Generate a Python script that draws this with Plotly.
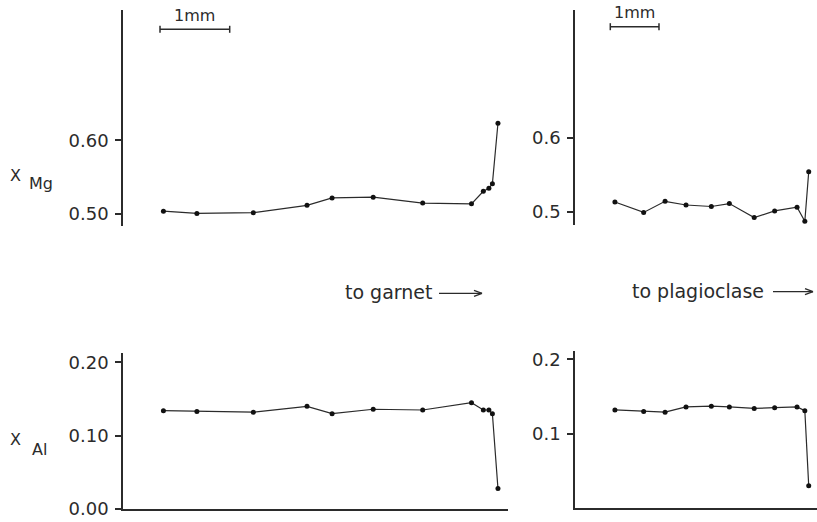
import plotly.graph_objects as go

W, H = 817, 522
FONT = "DejaVu Sans"
INK = "#2b2b2b"

# Traverse across the grain towards garnet (distance in mm)
garnet_dist = [0.58, 1.06, 1.87, 2.64, 3.00, 3.59, 4.30, 5.00, 5.17, 5.25, 5.30, 5.38]
garnet_xmg = [0.504, 0.501, 0.502, 0.512, 0.522, 0.523, 0.515, 0.514, 0.531, 0.535, 0.541, 0.623]
garnet_xal = [0.134, 0.133, 0.132, 0.140, 0.130, 0.136, 0.135, 0.145, 0.135, 0.135, 0.130, 0.028]

# Traverse across the grain towards plagioclase (distance in mm)
plag_dist = [0.82, 1.41, 1.85, 2.28, 2.80, 3.17, 3.68, 4.10, 4.56, 4.72, 4.80]
plag_xmg = [0.513, 0.499, 0.514, 0.509, 0.507, 0.511, 0.492, 0.501, 0.506, 0.487, 0.554]
plag_xal = [0.132, 0.130, 0.129, 0.136, 0.137, 0.136, 0.134, 0.135, 0.136, 0.131, 0.030]

# Tick labels
garnet_mg_ticks = [0.50, 0.60]
garnet_mg_text = ["0.50", "0.60"]
garnet_al_ticks = [0.00, 0.10, 0.20]
garnet_al_text = ["0.00", "0.10", "0.20"]
plag_mg_ticks = [0.5, 0.6]
plag_mg_text = ["0.5", "0.6"]
plag_al_ticks = [0.1, 0.2]
plag_al_text = ["0.1", "0.2"]

SCALE_MM = 1.0


def px(x):
    return x / W


def py(y):
    return 1 - y / H


fig = go.Figure()

line_style = dict(color=INK, width=1.2)
marker_style = dict(color="#111", size=5)

panels = [
    ("x", "y", garnet_dist, garnet_xmg),
    ("x2", "y2", plag_dist, plag_xmg),
    ("x3", "y3", garnet_dist, garnet_xal),
    ("x4", "y4", plag_dist, plag_xal),
]
for xa, ya, xs, ys in panels:
    fig.add_trace(go.Scatter(
        x=xs, y=ys, xaxis=xa, yaxis=ya, mode="lines+markers",
        line=line_style, marker=marker_style, cliponaxis=False,
        showlegend=False, hoverinfo="skip",
    ))

tickfont = dict(family=FONT, size=18, color=INK)


def yax(domain, rng, tv, tt, anchor):
    return dict(
        domain=domain, range=rng, anchor=anchor,
        tickvals=tv, ticktext=tt, tickfont=tickfont, ticklabelstandoff=3,
        showline=True, linecolor=INK, linewidth=1.5,
        ticks="outside", ticklen=6, tickwidth=1.5, tickcolor=INK,
        showgrid=False, zeroline=False, automargin=False,
    )


def xax(domain, rng, anchor, show_line):
    return dict(
        domain=domain, range=rng, anchor=anchor,
        showline=show_line, linecolor=INK, linewidth=1.5,
        showticklabels=False, ticks="", showgrid=False, zeroline=False,
        automargin=False,
    )


left_dom = [px(123), px(508)]
right_dom = [px(575), 1.0]

fig.update_layout(
    width=W, height=H,
    margin=dict(l=0, r=0, t=0, b=0),
    paper_bgcolor="white", plot_bgcolor="white",
    xaxis=xax(left_dom, [0, 5.524], "y", False),
    yaxis=yax([py(226), py(10)], [0.484, 0.776], garnet_mg_ticks, garnet_mg_text, "x"),
    xaxis2=xax(right_dom, [0, 4.97], "y2", False),
    yaxis2=yax([py(225), py(10)], [0.482, 0.7726], plag_mg_ticks, plag_mg_text, "x2"),
    xaxis3=xax(left_dom, [0, 5.524], "y3", True),
    yaxis3=yax([py(509), py(353)], [0.0, 0.2127], garnet_al_ticks, garnet_al_text, "x3"),
    xaxis4=xax(right_dom, [0, 4.97], "y4", True),
    yaxis4=yax([py(508), py(350.7)], [0.0, 0.2117], plag_al_ticks, plag_al_text, "x4"),
)

shapes = []
annotations = []

# 1 mm scale bars above the upper panels
for xref, x0, ybar, ylab in [("x", 0.531, 29.3, 15), ("x2", 0.725, 26.7, 13)]:
    x1 = x0 + SCALE_MM
    shapes.append(dict(type="line", xref=xref, yref="paper", x0=x0, x1=x1,
                       y0=py(ybar), y1=py(ybar), line=dict(color=INK, width=1.5)))
    for xe in (x0, x1):
        shapes.append(dict(type="line", xref=xref, yref="paper", x0=xe, x1=xe,
                           y0=py(ybar - 3.5), y1=py(ybar + 3.5),
                           line=dict(color=INK, width=1.5)))
    annotations.append(dict(xref=xref, yref="paper", x=(x0 + x1) / 2, y=py(ylab),
                            text="1mm", showarrow=False, xanchor="center",
                            yanchor="middle",
                            font=dict(family=FONT, size=16, color=INK)))

# Direction captions with arrows
for text, xr, ymid, a0, a1 in [("to garnet", 434, 292.3, 439, 482),
                               ("to plagioclase", 766, 290.7, 773, 813)]:
    annotations.append(dict(xref="paper", yref="paper", x=px(xr), y=py(ymid),
                            text=text, showarrow=False, xanchor="right",
                            yanchor="middle",
                            font=dict(family=FONT, size=19, color=INK)))
    ya = ymid + 1
    shapes.append(dict(type="line", xref="paper", yref="paper", x0=px(a0), x1=px(a1),
                       y0=py(ya), y1=py(ya), line=dict(color=INK, width=1.3)))
    for dy in (-3, 3):
        shapes.append(dict(type="line", xref="paper", yref="paper",
                           x0=px(a1 - 8), x1=px(a1), y0=py(ya + dy), y1=py(ya),
                           line=dict(color=INK, width=1.3)))

# Axis titles: X with a lowered subscript
for main_y, sub, sub_x, sub_y in [(175.5, "Mg", 27, 183), (439, "Al", 30, 449)]:
    annotations.append(dict(xref="paper", yref="paper", x=px(8), y=py(main_y),
                            text="X", showarrow=False, xanchor="left",
                            yanchor="middle",
                            font=dict(family=FONT, size=16, color=INK)))
    annotations.append(dict(xref="paper", yref="paper", x=px(sub_x), y=py(sub_y),
                            text=sub, showarrow=False, xanchor="left",
                            yanchor="middle",
                            font=dict(family=FONT, size=16, color=INK)))

fig.update_layout(shapes=shapes, annotations=annotations)
fig.write_html("out.html")
